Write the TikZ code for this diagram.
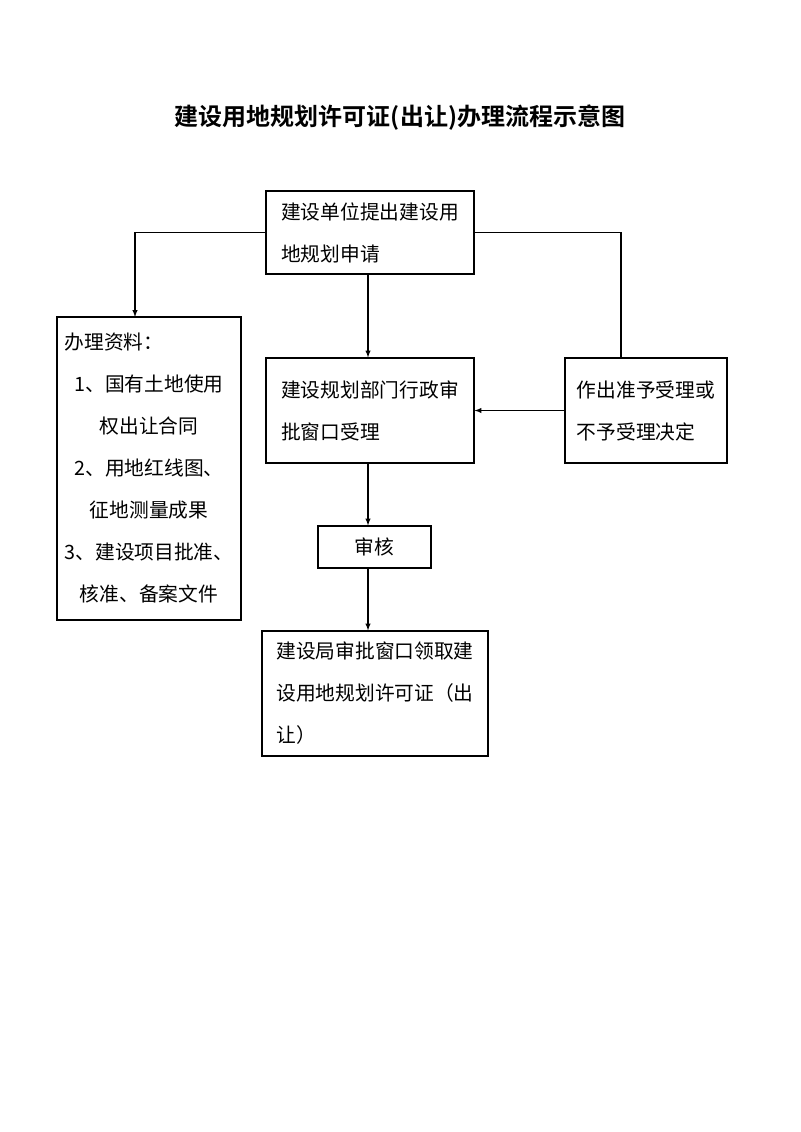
\documentclass[tikz,border=0pt]{standalone}
\usepackage{fontspec}
\setmainfont{Noto Sans CJK SC}[BoldFont={Noto Sans CJK SC Bold}]
\usetikzlibrary{calc}
\newcommand{\boxfont}{\fontsize{14.8pt}{31.5pt}\selectfont}
\newcommand{\titlefont}{\fontsize{18pt}{22pt}\bfseries\selectfont}

\begin{document}
\begin{tikzpicture}[x=0.75pt,y=-0.75pt,>=latex,
    box/.style={draw,line width=0.8pt,inner sep=0pt,align=left,font=\boxfont},
    link/.style={draw,line width=0.8pt}]
  \useasboundingbox (0,0) rectangle (800,1132);
  \node[font=\titlefont] (title) at (400,118) {建设用地规划许可证(出让)办理流程示意图};
  \node[box,minimum width=156pt,minimum height=62.25pt] (apply) at (370,232.5) {建设单位提出建设用\\地规划申请};
  \node[box,align=center,minimum width=138pt,minimum height=227.25pt] (docs) at (149,468.5)
    {\makebox[8.55em][l]{办理资料：}\\1、国有土地使用\\权出让合同\\2、用地红线图、\\征地测量成果\\3、建设项目批准、\\核准、备案文件};
  \node[box,minimum width=156pt,minimum height=78.75pt] (review) at (370,410.5) {建设规划部门行政审\\批窗口受理};
  \node[box,minimum width=121.5pt,minimum height=78.75pt] (decide) at (646,410.5) {作出准予受理或\\不予受理决定};
  \node[box,align=center,minimum width=84.75pt,minimum height=31.5pt] (check) at (374.5,547) {审核};
  \node[box,minimum width=169.5pt,minimum height=93.75pt] (issue) at (375,693.5) {建设局审批窗口领取建\\设用地规划许可证（出\\让）};
  \coordinate (docsTop) at (135,317);
  \coordinate (decideTop) at (621,358);
  % connectors
  \path[link,->] (apply.west) -| (docsTop);
  \path[link] (apply.east) -| (decideTop);
  \path[link,->] (apply.south -| 368,0) -- (review.north -| 368,0);
  \path[link,->] (decide.west) -- (review.east);
  \path[link,->] (review.south -| 368,0) -- (check.north -| 368,0);
  \path[link,->] (check.south -| 368,0) -- (issue.north -| 368,0);
\end{tikzpicture}
\end{document}
